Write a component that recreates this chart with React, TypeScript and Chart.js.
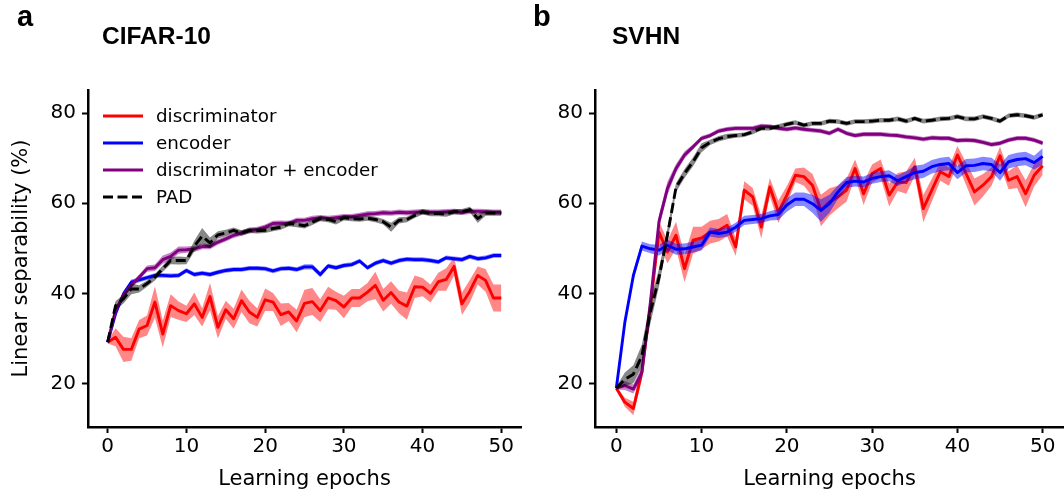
import React, { useEffect, useRef } from "react";
import { Chart, registerables } from "chart.js";
Chart.register(...registerables);

const epochs = [0,1,2,3,4,5,6,7,8,9,10,11,12,13,14,15,16,17,18,19,20,21,22,23,24,25,26,27,28,29,30,31,32,33,34,35,36,37,38,39,40,41,42,43,44,45,46,47,48,49,50];
const xTicks = [0, 10, 20, 30, 40, 50];
const yTicks = [20, 40, 60, 80];

// CIFAR-10
const cifarDisc = [29.2,30.3,27.6,27.6,32.1,32.9,38.1,31.0,37.3,36.2,35.5,37.7,34.7,39.3,32.5,36.4,34.4,38.4,35.9,34.7,38.6,38.1,35.3,35.9,33.9,37.8,38.2,36.2,39.0,38.4,37.0,39.0,39.0,40.3,41.8,38.5,40.2,38.1,37.2,41.5,41.4,40.0,42.6,43.1,46.0,37.7,40.5,44.0,42.9,39.0,39.0];
const cifarDiscErr = [0.3,2.0,2.8,2.5,2.0,2.2,3.5,3.0,2.5,2.0,1.8,2.5,2.0,3.0,2.5,2.0,2.2,2.5,2.5,2.0,2.5,2.0,2.5,2.0,2.5,3.0,3.0,2.5,2.5,2.0,2.5,2.0,2.0,2.0,3.0,2.5,2.5,2.5,3.0,2.5,2.0,2.0,2.0,2.5,2.0,2.5,2.5,2.0,2.5,3.0,3.0];
const cifarEnc = [29.2,35.5,39.9,42.5,43.0,43.5,44.0,44.0,43.9,44.0,45.1,44.2,44.5,44.2,44.7,45.1,45.3,45.3,45.6,45.6,45.5,45.0,45.5,45.6,45.3,45.9,45.9,44.2,46.1,45.7,46.2,46.4,47.2,45.7,46.7,47.3,46.7,47.3,47.6,47.5,47.5,47.3,47.0,47.9,47.7,47.5,48.2,47.7,47.9,48.4,48.4];
const cifarEncErr = [0.2,0.7,0.6,0.6,0.5,0.5,0.5,0.5,0.5,0.5,0.5,0.5,0.5,0.5,0.5,0.5,0.5,0.5,0.5,0.5,0.5,0.5,0.5,0.5,0.5,0.6,0.6,0.6,0.5,0.5,0.5,0.5,0.5,0.5,0.5,0.5,0.5,0.5,0.5,0.5,0.5,0.5,0.5,0.5,0.5,0.5,0.5,0.5,0.5,0.5,0.5];
const cifarBoth = [29.2,36.2,39.6,41.8,43.6,45.5,45.7,47.5,48.2,49.6,49.7,49.9,50.4,50.4,51.4,52.1,52.9,53.4,53.9,54.2,54.7,55.5,55.6,55.5,56.2,56.2,56.6,56.8,56.6,56.8,57.0,57.0,57.3,57.6,57.7,57.9,57.8,58.0,57.9,58.0,58.1,58.0,58.0,58.1,58.2,58.0,58.2,58.2,58.1,58.0,58.0];
const cifarBothErr = [0.2,0.6,0.6,0.6,0.6,0.7,0.7,0.9,0.9,0.8,0.7,0.7,0.6,0.6,0.6,0.6,0.6,0.6,0.6,0.6,0.6,0.6,0.6,0.6,0.6,0.6,0.6,0.6,0.6,0.6,0.6,0.6,0.6,0.6,0.6,0.6,0.6,0.6,0.6,0.6,0.6,0.6,0.6,0.6,0.6,0.6,0.6,0.6,0.6,0.6,0.6];
const cifarPad = [29.2,37.3,38.8,41.0,41.0,42.2,43.6,45.5,47.3,47.3,47.3,50.5,52.7,51.2,53.0,53.4,54.0,53.4,54.0,53.9,54.0,54.4,54.7,55.5,55.3,55.0,55.8,56.6,56.4,55.9,56.8,56.6,56.5,56.7,56.4,55.9,54.7,56.2,56.4,57.3,58.1,57.7,57.7,57.6,58.1,58.1,58.6,56.6,57.8,57.8,57.8];
const cifarPadErr = [0.2,1.0,1.0,1.2,0.8,0.7,0.7,0.7,0.8,0.9,0.8,1.2,1.8,1.2,0.8,0.7,0.6,0.6,0.6,0.6,0.6,0.6,0.6,0.6,0.6,0.6,0.6,0.6,0.6,0.6,0.6,0.6,0.6,0.6,0.6,0.6,1.0,0.7,0.6,0.6,0.6,0.6,0.6,0.6,0.6,0.6,0.6,1.0,0.6,0.6,0.6];

// SVHN
const svhnDisc = [19.0,15.9,14.5,22.5,37.3,53.6,49.2,52.9,45.5,51.8,52.3,53.6,54.0,55.1,50.3,62.9,61.4,54.7,63.6,58.1,61.8,66.2,65.9,64.0,58.4,60.3,61.4,62.9,67.7,62.1,66.6,67.7,61.8,64.7,64.6,68.1,58.8,62.9,67.0,65.9,70.7,66.6,62.5,64.0,65.9,70.5,65.1,65.9,62.1,66.2,68.3];
const svhnDiscErr = [0.3,1.0,1.5,1.5,1.5,2.5,2.5,3.0,3.0,3.0,2.5,2.5,2.5,2.5,2.0,2.0,2.0,2.5,2.0,2.5,2.0,1.5,2.0,2.5,3.5,3.0,2.5,2.5,2.0,2.5,2.0,2.0,2.5,2.0,2.5,2.0,3.0,2.5,2.0,2.0,2.0,2.5,3.0,2.5,2.0,2.0,2.0,2.5,3.0,2.5,2.0];
const svhnEnc = [19.0,33.6,44.0,50.5,49.9,49.6,50.7,49.8,49.9,50.3,50.7,53.6,53.3,53.6,54.7,56.2,56.4,56.6,57.2,57.5,59.6,60.9,60.9,59.9,58.4,59.9,62.5,64.6,64.9,64.7,65.5,65.9,66.1,65.0,65.9,66.8,67.1,68.1,68.6,68.8,66.8,68.3,68.4,68.8,68.6,66.8,69.2,69.7,69.9,69.0,70.4];
const svhnEncErr = [0.3,1.0,1.0,1.0,1.0,1.2,1.2,1.2,1.2,1.2,1.2,1.0,1.0,1.0,1.0,1.0,1.0,1.0,1.0,1.2,1.5,1.5,1.5,2.0,2.5,2.0,1.5,1.2,1.2,1.2,1.2,1.2,1.2,1.2,1.2,1.5,1.5,1.5,1.5,1.5,1.5,1.5,1.5,1.5,1.5,1.8,1.5,1.5,1.5,1.5,1.8];
const svhnBoth = [19.0,19.6,18.8,22.5,38.1,55.9,63.3,67.7,70.7,72.5,74.4,75.0,76.0,76.4,76.6,76.6,76.6,77.1,77.0,76.6,76.4,76.7,76.4,76.2,76.0,75.5,76.4,75.5,75.0,75.3,75.3,75.3,75.1,75.0,74.7,74.5,74.2,74.5,74.4,74.4,73.9,74.0,73.9,73.5,73.0,73.3,74.0,74.4,74.4,74.0,73.3];
const svhnBothErr = [0.3,1.0,1.0,1.2,1.5,1.5,1.5,1.0,0.8,0.6,0.5,0.5,0.5,0.5,0.5,0.5,0.5,0.5,0.5,0.5,0.5,0.5,0.5,0.5,0.5,0.5,0.5,0.5,0.5,0.5,0.5,0.5,0.5,0.5,0.5,0.5,0.5,0.5,0.5,0.5,0.5,0.5,0.5,0.5,0.5,0.5,0.5,0.5,0.5,0.5,0.5];
const svhnPad = [19.0,21.0,22.1,26.2,35.9,43.5,53.0,63.5,66.6,69.2,72.3,73.5,74.3,74.8,75.0,75.2,75.8,76.6,76.6,77.0,77.5,77.9,77.3,77.7,77.7,78.2,78.1,77.7,78.1,78.1,78.2,78.4,78.4,78.7,78.2,78.8,78.2,78.4,78.7,78.8,79.2,78.7,78.7,79.2,78.8,78.2,79.4,79.6,79.4,79.0,79.6];
const svhnPadErr = [0.3,1.5,2.0,2.5,2.5,2.0,1.5,1.0,1.0,1.0,1.0,0.6,0.6,0.6,0.5,0.5,0.5,0.5,0.5,0.5,0.5,0.5,0.5,0.5,0.5,0.5,0.5,0.5,0.5,0.5,0.5,0.5,0.5,0.5,0.5,0.5,0.5,0.5,0.5,0.5,0.5,0.5,0.5,0.5,0.5,0.5,0.5,0.5,0.5,0.5,0.5];

const legendLabels = ["discriminator", "encoder", "discriminator + encoder", "PAD"];

const RED = "#ff0000";
const BLUE = "#0000ff";
const PURPLE = "#800080";
const BLACK = "#000000";
const PAD_DASH = [10, 4.5];
const LINE_W = 2.9;

type Series = { mean: number[]; err: number[]; color: string; fill: string; dash?: number[]; order: number };

function makeDatasets(series: Series[]) {
  const ds: any[] = [];
  series.forEach((s) => {
    ds.push({
      data: epochs.map((e, i) => ({ x: e, y: s.mean[i] - s.err[i] })),
      borderColor: "rgba(0,0,0,0)", borderWidth: 0, pointRadius: 0, fill: false, order: s.order + 1,
    });
    ds.push({
      data: epochs.map((e, i) => ({ x: e, y: s.mean[i] + s.err[i] })),
      borderColor: "rgba(0,0,0,0)", borderWidth: 0, pointRadius: 0, fill: "-1", backgroundColor: s.fill, order: s.order + 1,
    });
    ds.push({
      data: epochs.map((e, i) => ({ x: e, y: s.mean[i] })),
      borderColor: s.color, borderWidth: LINE_W, borderDash: s.dash || [], pointRadius: 0, fill: false, order: s.order,
      borderJoinStyle: "round", borderCapStyle: "butt",
    });
  });
  return ds;
}

type PanelProps = {
  left: number; width: number; yAxisWidth: number; rightPad: number; yTitle?: string; series: Series[];
};

function Panel({ left, width, yAxisWidth, rightPad, yTitle, series }: PanelProps) {
  const ref = useRef<HTMLCanvasElement | null>(null);
  useEffect(() => {
    if (!ref.current) return;
    const tickFont = { family: "DejaVu Sans", size: 20 };
    const titleFont = { family: "DejaVu Sans", size: 21 };
    const chart = new Chart(ref.current, {
      type: "line",
      data: { datasets: makeDatasets(series) },
      options: {
        responsive: false,
        animation: false,
        devicePixelRatio: 1,
        layout: { padding: { top: 90, right: rightPad, left: 0, bottom: 0 } },
        plugins: { legend: { display: false }, tooltip: { enabled: false }, title: { display: false } },
        elements: { line: { tension: 0 }, point: { radius: 0 } },
        scales: {
          x: {
            type: "linear", min: -2.5, max: 52.5,
            afterBuildTicks: (s: any) => { s.ticks = xTicks.map((v) => ({ value: v })); },
            afterFit: (s: any) => { s.height = 65; },
            border: { display: true, width: 2.5, color: BLACK },
            grid: { drawOnChartArea: false, drawTicks: true, tickLength: 6, tickWidth: 2, tickColor: BLACK },
            ticks: { color: BLACK, font: tickFont, padding: 2, maxRotation: 0, autoSkip: false },
            title: { display: true, text: "Learning epochs", color: BLACK, font: titleFont, padding: { top: 0, bottom: 0 } },
          },
          y: {
            type: "linear", min: 10.4, max: 85.1,
            afterBuildTicks: (s: any) => { s.ticks = yTicks.map((v) => ({ value: v })); },
            afterFit: (s: any) => { s.width = yAxisWidth; },
            border: { display: true, width: 2.5, color: BLACK },
            grid: { drawOnChartArea: false, drawTicks: true, tickLength: 6, tickWidth: 2, tickColor: BLACK },
            ticks: { color: BLACK, font: tickFont, padding: 6 },
            title: { display: !!yTitle, text: yTitle || "", color: BLACK, font: titleFont, padding: { top: 9, bottom: 0 } },
          },
        },
      } as any,
    });
    return () => chart.destroy();
  }, []);
  return <canvas ref={ref} width={width} height={492} style={{ position: "absolute", left, top: 0 }} />;
}

function Legend() {
  const items = [
    { label: legendLabels[0], color: RED, dash: "" },
    { label: legendLabels[1], color: BLUE, dash: "" },
    { label: legendLabels[2], color: PURPLE, dash: "" },
    { label: legendLabels[3], color: BLACK, dash: PAD_DASH.join(",") },
  ];
  return (
    <div style={{ position: "absolute", left: 102, top: 102 }}>
      {items.map((it, i) => (
        <div key={i} style={{ display: "flex", alignItems: "center", height: 27 }}>
          <svg width={41} height={6} style={{ display: "block" }}>
            <line x1={1} y1={3} x2={41} y2={3} stroke={it.color} strokeWidth={LINE_W} strokeDasharray={it.dash || undefined} />
          </svg>
          <span style={{ marginLeft: 13, fontFamily: "DejaVu Sans", fontSize: 18.3, color: "#000", lineHeight: "27px", whiteSpace: "nowrap" }}>{it.label}</span>
        </div>
      ))}
    </div>
  );
}

const letterStyle: React.CSSProperties = { position: "absolute", fontFamily: "Liberation Sans", fontWeight: "bold", fontSize: 29, lineHeight: "29px", color: "#000" };
const titleStyle: React.CSSProperties = { position: "absolute", fontFamily: "Liberation Sans", fontWeight: "bold", fontSize: 24.5, lineHeight: "25px", color: "#000" };

export default function App() {
  const cifarSeries: Series[] = [
    { mean: cifarDisc, err: cifarDiscErr, color: RED, fill: "rgba(255,0,0,0.47)", order: 10 },
    { mean: cifarEnc, err: cifarEncErr, color: BLUE, fill: "rgba(0,0,255,0.47)", order: 7 },
    { mean: cifarBoth, err: cifarBothErr, color: PURPLE, fill: "rgba(128,0,128,0.47)", order: 4 },
    { mean: cifarPad, err: cifarPadErr, color: BLACK, fill: "rgba(0,0,0,0.47)", dash: PAD_DASH, order: 1 },
  ];
  const svhnSeries: Series[] = [
    { mean: svhnDisc, err: svhnDiscErr, color: RED, fill: "rgba(255,0,0,0.47)", order: 10 },
    { mean: svhnEnc, err: svhnEncErr, color: BLUE, fill: "rgba(0,0,255,0.47)", order: 7 },
    { mean: svhnBoth, err: svhnBothErr, color: PURPLE, fill: "rgba(128,0,128,0.47)", order: 4 },
    { mean: svhnPad, err: svhnPadErr, color: BLACK, fill: "rgba(0,0,0,0.47)", dash: PAD_DASH, order: 1 },
  ];
  return (
    <div style={{ position: "absolute", left: 0, top: 0, width: 1064, height: 492, background: "#fff", overflow: "hidden" }}>
      <Panel left={0} width={530} yAxisWidth={88} rightPad={9} yTitle="Linear separability (%)" series={cifarSeries} />
      <Panel left={530} width={534} yAxisWidth={65} rightPad={0} series={svhnSeries} />
      <Legend />
      <div style={{ ...letterStyle, left: 17, top: 2 }}>a</div>
      <div style={{ ...letterStyle, left: 533, top: 2 }}>b</div>
      <div style={{ ...titleStyle, left: 102, top: 23 }}>CIFAR-10</div>
      <div style={{ ...titleStyle, left: 612, top: 23 }}>SVHN</div>
    </div>
  );
}
